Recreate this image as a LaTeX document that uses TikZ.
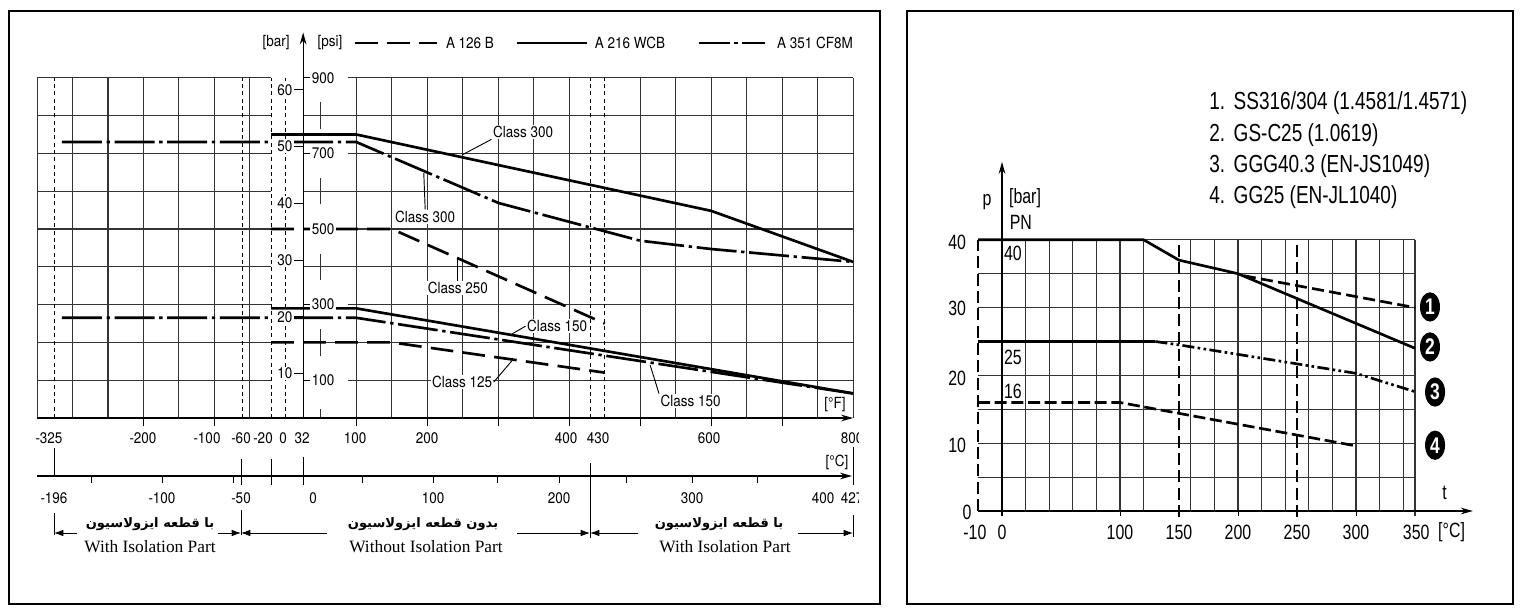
\documentclass[tikz,border=0pt]{standalone}
\usepackage{fontspec}
\setmainfont{Liberation Serif}
\newfontfamily\futfont[FakeStretch=0.88]{TeX Gyre Heros}
\newfontfamily\narfont[FakeStretch=0.77]{Liberation Sans}
\newfontfamily\arabicfont[Script=Arabic]{DejaVu Sans}
\TeXXeTstate=1
\usetikzlibrary{arrows.meta,shapes.geometric}
\tikzset{
  frame/.style={line width=0.8pt},
  gridline/.style={line width=0.8pt,black!80},
  tick/.style={line width=0.7pt},
  fline/.style={line width=0.7pt,dash pattern=on 3pt off 2.5pt},
  axis/.style={line width=0.9pt,-{Stealth[length=9pt,width=5pt]}},
  curve/.style={line width=2pt},
  a126/.style={curve,dash pattern=on 17pt off 7pt},
  cf8m/.style={curve,dash pattern=on 30pt off 3.5pt on 2.5pt off 3.5pt},
  rangearrow/.style={line width=0.7pt,-{Latex[length=7pt,width=5pt]}},
  lab/.style={font=\futfont\fontsize{11.5}{12}\selectfont,inner sep=1pt},
  cls/.style={lab,fill=white},
  fa/.style={font=\arabicfont\bfseries\fontsize{9.8}{12}\selectfont,inner sep=1pt},
  en/.style={font=\fontsize{13}{14}\selectfont,inner sep=1pt},
  rdash/.style={line width=0.9pt,dash pattern=on 9pt off 4pt},
  r1/.style={curve,dash pattern=on 9pt off 4pt},
  r3/.style={curve,dash pattern=on 9pt off 2.5pt on 2pt off 2.5pt on 2pt off 2.5pt},
  r4/.style={curve,dash pattern=on 9pt off 3.5pt},
  rlab/.style={font=\narfont\fontsize{15.5}{16}\selectfont,inner sep=1pt},
  rleg/.style={font=\narfont\fontsize{18.5}{20}\selectfont,inner sep=0pt,anchor=west},
  num/.style={ellipse,fill=black,text=white,inner sep=0pt,minimum width=15pt,minimum height=22pt,font=\narfont\bfseries\fontsize{17}{17}\selectfont}
}
\begin{document}
\begin{tikzpicture}[x=0.75pt,y=-0.75pt,>=stealth]
\useasboundingbox (0,0) rectangle (1523,616);
\draw[frame] (9,11) rectangle (880,604);
\draw[frame] (907,11) rectangle (1513,604);
%legend
\node[lab] (ubar) at (276,43) {[bar]};
\node[lab] (upsi) at (330,43) {[psi]};
\path (355,43) coordinate (la) (437,43) coordinate (lb)
  (517,43) coordinate (lc) (587,43) coordinate (ld)
  (699,43) coordinate (le) (765,43) coordinate (lf);
\draw[a126] (la)--(lb);
\draw[curve] (lc)--(ld);
\draw[cf8m,dash pattern=on 23pt off 3.5pt on 2.5pt off 3.5pt] (le)--(lf);
\node[lab] (ma) at (470,43) {A 126 B};
\node[lab] (mb) at (630,43) {A 216 WCB};
\node[lab] (mc) at (815,43) {A 351 CF8M};
%left chart: degF / psi
\begin{scope}[shift={(285.4,418)},x=0.5322pt,y=0.2835pt]
\foreach \f in {-350,-300,-250,-200,-150,-100,-50,100,150,200,250,300,350,400,500,550,600,650,700,750,800}
  \draw[gridline] (\f,0)--(\f,900);
\foreach \p in {200,400,600,800}
  \draw[gridline] (50,\p-35)--(50,\p+35);
\draw[gridline] (50,0)--(50,25);
\foreach \p in {100,200,...,900}
  \draw[gridline] (-350,\p)--(-20,\p);
\foreach \p in {200,400,600,800}
  \draw[gridline] (25,\p)--(800,\p);
\foreach \p in {100,300,...,900}
  \draw[gridline] (88,\p)--(800,\p);
\foreach \f in {-325,-60,-20,0,430,450}
  \draw[fline] (\f,0)--(\f,900);
\draw[axis] (-350,0)--(800,0);
\draw[axis] (25,0)--(25,1020);
\foreach \f in {-200,-100,100,200,300,400,500,600,700}
  \draw[tick] (\f,0)--(\f,-20);
\draw[curve] (-20,750)--(100,750)--(600,548)--(800,413);
\draw[cf8m] (-315,730)--(-22,730) (11,730)--(100,730)--(300,569)--(500,469)--(600,447)--(800,413);
\draw[a126] (-20,500)--(150,500)--(450,250);
\draw[curve] (-20,290)--(100,290)--(800,65);
\draw[cf8m] (-315,265)--(-22,265) (11,265)--(100,265)--(800,65);
\draw[a126] (-20,200)--(150,200)--(450,120);
\foreach \b in {10,20,...,60}{
  \draw[tick] (12,15*\b-32)--(25,15*\b-32);
  \node[lab,left,fill=white] (bar\b) at (12,15*\b-32) {\b};}
\foreach \p in {100,300,...,900}{
  \draw[tick] (25,\p)--(35,\p);
  \node[lab,fill=white] (psi\p) at (53,\p) {\p};}
\path (249,696) coordinate (c300a) (195,648) coordinate (c300b)
  (243,421) coordinate (c250) (319,222) coordinate (c150a)
  (319,151) coordinate (c125) (514,140) coordinate (c150b);
\node[cls] (l300a) at (335,757) {Class 300};
\node[cls] (l300b) at (197,532) {Class 300};
\node[cls] (l250) at (243,344) {Class 250};
\node[cls] (l150a) at (383,243) {Class 150};
\node[cls] (l125) at (249,95) {Class 125};
\node[cls] (l150b) at (571,45) {Class 150};
\draw[tick] (l300a.south west)--(c300a);
\draw[tick] (l300b.north)--(c300b);
\draw[tick] (l250.north)--(c250);
\draw[tick] (l150a.west)--(c150a);
\draw[tick] (l125.east)--(c125);
\draw[tick] (l150b.north west)--(c150b);
\end{scope}
\foreach \x/\s [count=\i] in {49/-325,143/-200,207/-100,241/-60,263/-20,283/0,302/32,355/100,427/200,566/400,598/430,709/600}
  \node[lab] (fl\i) at (\x,438) {\s};
\node[lab] (fdeg) at (835,405) {[°F]};
%degC scale
\draw[axis] (37,476)--(852,476);
\foreach \x in {91,162,233,362,433,497,559,626,692,757}
  \draw[tick] (\x,476)--(\x,483);
\foreach \x/\a/\b in {54/448/476,241/459/485,271/459/485,303/457/485,853/447/485,54/513/535,241/510/535,590/463/538,853/515/537}
  \draw[tick] (\x,\a)--(\x,\b);
\foreach \x/\s [count=\i] in {54/-196,162/-100,241/-50,313/0,433/100,559/200,692/300,823/400}
  \node[lab] (cl\i) at (\x,498) {\s};
\node[lab] (cdeg) at (837,462) {[°C]};
\begin{scope}
\clip (836,420) rectangle (858,512);
\node[lab] (fl800) at (852,438) {800};
\node[lab] (cl427) at (852,498) {427};
\end{scope}
\node[fa] (fa1) at (150,524) {\beginR با قطعه ایزولاسیون\endR};
\node[en] (en1) at (150,547) {With Isolation Part};
\node[fa] (fa2) at (423,524) {\beginR بدون قطعه ایزولاسیون\endR};
\node[en] (en2) at (426,547) {Without Isolation Part};
\node[fa] (fa3) at (719,524) {\beginR با قطعه ایزولاسیون\endR};
\node[en] (en3) at (725,547) {With Isolation Part};
\path (54,533) coordinate (ra) (77,533) coordinate (rb) (218,533) coordinate (rc)
  (241,533) coordinate (rd) (327,533) coordinate (re) (517,533) coordinate (rf)
  (590,533) coordinate (rg) (638,533) coordinate (rh) (798,533) coordinate (ri)
  (853,533) coordinate (rj);
\draw[rangearrow] (rb)--(ra);
\draw[rangearrow] (rc)--(rd);
\draw[rangearrow] (re)--(rd);
\draw[rangearrow] (rf)--(rg);
\draw[rangearrow] (rh)--(rg);
\draw[rangearrow] (ri)--(rj);
%right chart: degC / bar
\node[rleg] (t1) at (1209,103) {1.\hspace{0.35em}SS316/304 (1.4581/1.4571)};
\node[rleg] (t2) at (1209,135) {2.\hspace{0.35em}GS-C25 (1.0619)};
\node[rleg] (t3) at (1209,166) {3.\hspace{0.35em}GGG40.3 (EN-JS1049)};
\node[rleg] (t4) at (1209,197) {4.\hspace{0.35em}GG25 (EN-JL1040)};
\begin{scope}[shift={(1002,511)},x=0.885pt,y=5.085pt]
\foreach \c in {20,40,...,120}
  \draw[gridline] (\c,0)--(\c,40);
\foreach \c in {160,180,...,340}
  \draw[gridline] (\c,0)--(\c,40);
\foreach \p in {5,10,...,40}
  \draw[gridline] (-20.3,\p)--(350,\p);
\draw[gridline] (350,-0.8)--(350,40);
\foreach \c in {150,250}
  \draw[rdash] (\c,-0.9)--(\c,40);
\draw[rdash] (-20.3,0)--(-20.3,40);
\foreach \c in {100,200,300}
  \draw[tick] (\c,0)--(\c,-0.8);
\draw[axis] (-20.3,0)--(399,0);
\draw[axis] (0,-0.8)--(0,51.5);
\draw[curve] (-20.3,40)--(120,40)--(150,37)--(180,35.8)--(200,35)--(350,24);
\draw[r1] (205,34.7)--(350,30);
\draw[curve] (-20.3,25)--(130,25);
\draw[r3] (130,25)--(150,24.5)--(300,20.3)--(350,17.6);
\draw[r4] (-20.3,16)--(100,16)--(300,9.6);
\node[num] (m1) at (362.7,30.1) {1};
\node[num] (m2) at (362.7,24.2) {2};
\node[num] (m3) at (367,17.55) {3};
\node[num] (m4) at (367,9.7) {4};
\foreach \p/\y [count=\i] in {40/39.6,30/29.9,20/19.5,10/9.7}
  \node[rlab] (py\i) at (-38,\y) {\p};
\node[rlab] (py0) at (-29.7,-0.2) {0};
\foreach \c/\s [count=\i] in {-23/-10,0/0,100/100,150/150,200/200,250/250,300/300,351/350}
  \node[rlab] (px\i) at (\c,-3.1) {\s};
\node[rlab] (pdeg) at (381,-3.1) {[°C]};
\node[rlab] (pt) at (375,2.65) {t};
\node[rlab] (pp) at (-12.7,45.6) {p};
\node[rlab] (pbar) at (19.5,46.2) {[bar]};
\node[rlab] (ppn) at (16,42.5) {PN};
\node[rlab] (pn40) at (9.3,38.05) {40};
\node[rlab] (pn25) at (9.3,22.6) {25};
\node[rlab] (pn16) at (9.3,17.6) {16};
\end{scope}
\end{tikzpicture}
\end{document}
